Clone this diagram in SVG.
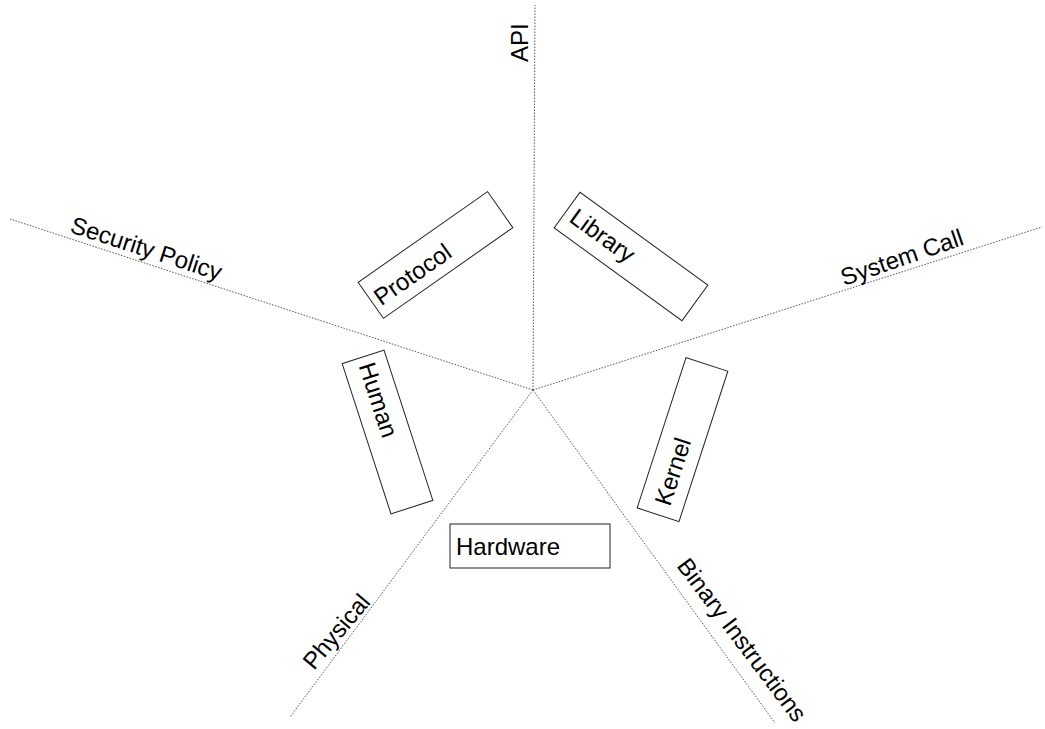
<svg xmlns="http://www.w3.org/2000/svg" width="1045" height="729" viewBox="0 0 1045 729">
  <style>
    .axis { stroke: #555; stroke-width: 1; stroke-dasharray: 1.5 1.5; fill: none; }
    .box { fill: #fff; stroke: #222; stroke-width: 1; }
    .lbl { font-family: "Liberation Sans", Arial, sans-serif; font-size: 24px; fill: #000; }
  </style>
  <rect width="1045" height="729" fill="#fff"/>
  <g id="connectors">
    <line class="axis" x1="533" y1="390" x2="535" y2="5"/>
    <line class="axis" x1="533" y1="390" x2="10" y2="219"/>
    <line class="axis" x1="533" y1="390" x2="1042" y2="227"/>
    <line class="axis" x1="533" y1="390" x2="290" y2="717"/>
    <line class="axis" x1="533" y1="390" x2="775" y2="723"/>
  </g>
  <g id="axis-labels">
    <text class="lbl" transform="translate(528,62) rotate(-90)">API</text>
    <text class="lbl" transform="translate(69,232) rotate(18)">Security Policy</text>
    <text class="lbl" transform="translate(844,286) rotate(-19)">System Call</text>
    <text class="lbl" transform="translate(314,671) rotate(-50)">Physical</text>
    <text class="lbl" transform="translate(676,566) rotate(53)">Binary Instructions</text>
  </g>
  <g id="protocol" transform="translate(435.5,255) rotate(-35)">
    <rect class="box" x="-79" y="-22" width="158" height="44"/>
    <text class="lbl" x="-74" y="11">Protocol</text>
  </g>
  <g id="library" transform="translate(631,256.5) rotate(36)">
    <rect class="box" x="-79" y="-22" width="158" height="44"/>
    <text class="lbl" x="-72" y="8">Library</text>
  </g>
  <g id="human" transform="translate(387.5,432) rotate(72)">
    <rect class="box" x="-79" y="-22" width="158" height="44"/>
    <text class="lbl" x="-72" y="7">Human</text>
  </g>
  <g id="kernel" transform="translate(682.5,439.6) rotate(-72)">
    <rect class="box" x="-79" y="-22" width="158" height="44"/>
    <text class="lbl" x="-68" y="9">Kernel</text>
  </g>
  <g id="hardware">
    <rect class="box" x="450" y="524" width="160" height="44"/>
    <text class="lbl" x="456" y="555">Hardware</text>
  </g>
</svg>
